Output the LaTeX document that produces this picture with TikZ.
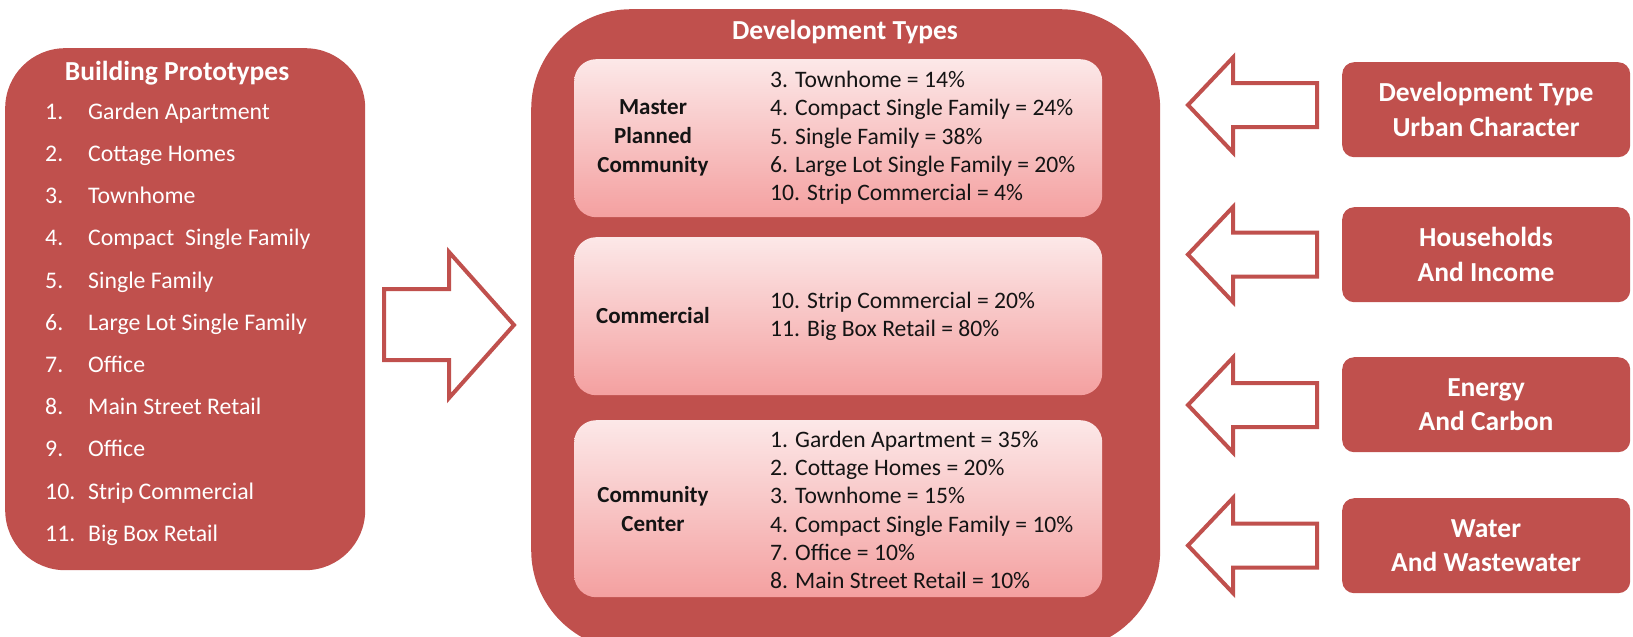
\documentclass[tikz,border=0pt]{standalone}
\usepackage{fontspec}
\setmainfont{Carlito}
\definecolor{myred}{HTML}{C0504D}
\definecolor{pinktop}{RGB}{252,232,232}
\definecolor{pinkbot}{RGB}{244,160,160}
\definecolor{ink}{RGB}{20,20,20}
\begin{document}
\begin{tikzpicture}[x=1pt,y=-1pt,
  redpanel/.style={fill=myred, draw=none, inner sep=0, anchor=north west},
  pinkpanel/.style={top color=pinktop, bottom color=pinkbot, draw=none, rounded corners=22, inner sep=0, anchor=north west, minimum width=528},
  blockarrow/.style={draw=myred, line width=4pt, fill=white, line join=miter},
  headtxt/.style={text=white, font=\bfseries\fontsize{27.5}{34.5}\selectfont, align=center, inner sep=0},
  listtxt/.style={text=white, font=\fontsize{23.8}{28}\selectfont, inner sep=0, anchor=mid west},
  labeltxt/.style={text=ink, font=\bfseries\fontsize{23}{29}\selectfont, align=center, inner sep=0},
  pcttxt/.style={text=ink, font=\fontsize{23.6}{28.3}\selectfont, align=left, inner sep=0, anchor=west}]
\path[use as bounding box] (0,0) rectangle (1633,637);
\clip (0,0) rectangle (1633,637);

% left panel
\node[redpanel, rounded corners=60, minimum width=360, minimum height=522] (proto) at (5,48) {};
\node[headtxt] (protot) at (177,73) {Building Prototypes};
\foreach \n/\t [count=\k from 0] in {1./Garden Apartment, 2./Cottage Homes, 3./Townhome, 4./Compact~ Single Family, 5./Single Family, 6./Large Lot Single Family, 7./Office, 8./Main Street Retail, 9./Office, 10./Strip Commercial, 11./Big Box Retail}{
  \node[listtxt] (pn\k) at (45,117+42.2*\k) {\n};
  \node[listtxt] (pt\k) at (88,117+42.2*\k) {\t};
}

% centre panel
\node[redpanel, rounded corners=100, minimum width=629, minimum height=641] (devt) at (531,9) {};
\node[headtxt] (devtt) at (845,32) {Development Types};

\node[pinkpanel, minimum height=158] (mpc) at (574,59) {};
\node[labeltxt] (mpcl) at (653,138) {Master\\Planned\\Community};
\node[pcttxt] (mpcp) at (770,138) {3. Townhome = 14\%\\4. Compact Single Family = 24\%\\5. Single Family = 38\%\\6. Large Lot Single Family = 20\%\\10. Strip Commercial = 4\%};

\node[pinkpanel, minimum height=158] (com) at (574,237) {};
\node[labeltxt] (coml) at (653,316) {Commercial};
\node[pcttxt] (comp) at (770,316) {10. Strip Commercial = 20\%\\11. Big Box Retail = 80\%};

\node[pinkpanel, minimum height=177] (cc) at (574,420) {};
\node[labeltxt] (ccl) at (653,509) {Community\\Center};
\node[pcttxt] (ccp) at (770,510) {1. Garden Apartment = 35\%\\2. Cottage Homes = 20\%\\3. Townhome = 15\%\\4. Compact Single Family = 10\%\\7. Office = 10\%\\8. Main Street Retail = 10\%};

% big arrow
\draw[blockarrow] (384,289) -- (449,289) -- (449,252) -- (514,325) -- (449,398) -- (449,360) -- (384,360) -- cycle;

% right panels
\foreach \nm/\top/\txt in {dtuc/62/{Development Type\\Urban Character}, hi/207/{Households\\And Income}, ec/357/{Energy\\And Carbon}, ww/498/{Water\\And Wastewater}}{
  \node[redpanel, rounded corners=12, minimum width=288, minimum height=95] (\nm) at (1342,\top) {};
  \node[headtxt] (\nm t) at (1486,\top+47.5) {\txt};
}

% right arrows
\foreach \c in {105,254.5,405,545.5}{
  \draw[blockarrow] (1317,\c-22) -- (1233,\c-22) -- (1233,\c-47.5) -- (1188,\c) -- (1233,\c+47.5) -- (1233,\c+22) -- (1317,\c+22) -- cycle;
}
\end{tikzpicture}
\end{document}
